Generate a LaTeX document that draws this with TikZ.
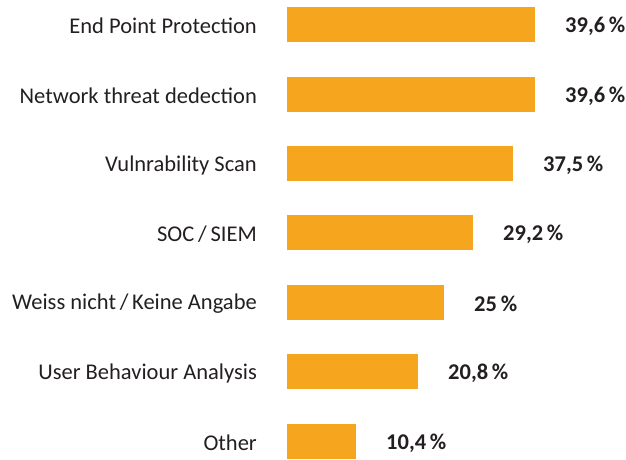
\documentclass[tikz,border=0pt]{standalone}
\usepackage{fontspec}
\setmainfont{Carlito}
\definecolor{barorange}{HTML}{F6A51E}
\definecolor{txtgray}{HTML}{231F20}
\begin{document}
\begin{tikzpicture}[x=1pt,y=-1pt,
  bar/.style={fill=barorange,draw=none},
  cat/.style={anchor=east,inner sep=0pt,text=txtgray,font=\fontsize{22.5}{26}\selectfont},
  val/.style={anchor=west,inner sep=0pt,text=txtgray,font=\fontsize{22.5}{26}\selectfont\bfseries}]
\useasboundingbox (0,0) rectangle (626,459);
\foreach \i/\lab/\top/\endx/\pct in {
  1/{End Point Protection}/7/535/{39,6\,\%},
  2/{Network threat dedection}/77/535/{39,6\,\%},
  3/{Vulnrability Scan}/146/513/{37,5\,\%},
  4/{SOC\,/\,SIEM}/215/473/{29,2\,\%},
  5/{Weiss nicht\,/\,Keine Angabe}/285/444/{25\,\%},
  6/{User Behaviour Analysis}/354/418/{20,8\,\%},
  7/{Other}/424/356/{10,4\,\%}}{
  \path[bar] (287,\top) rectangle (\endx,\top+35);
  \node[cat] (c\i) at (257,\top+19) {\lab};
  \node[val] (v\i) at (\endx+30,\top+19) {\pct};
}
\end{tikzpicture}
\end{document}
